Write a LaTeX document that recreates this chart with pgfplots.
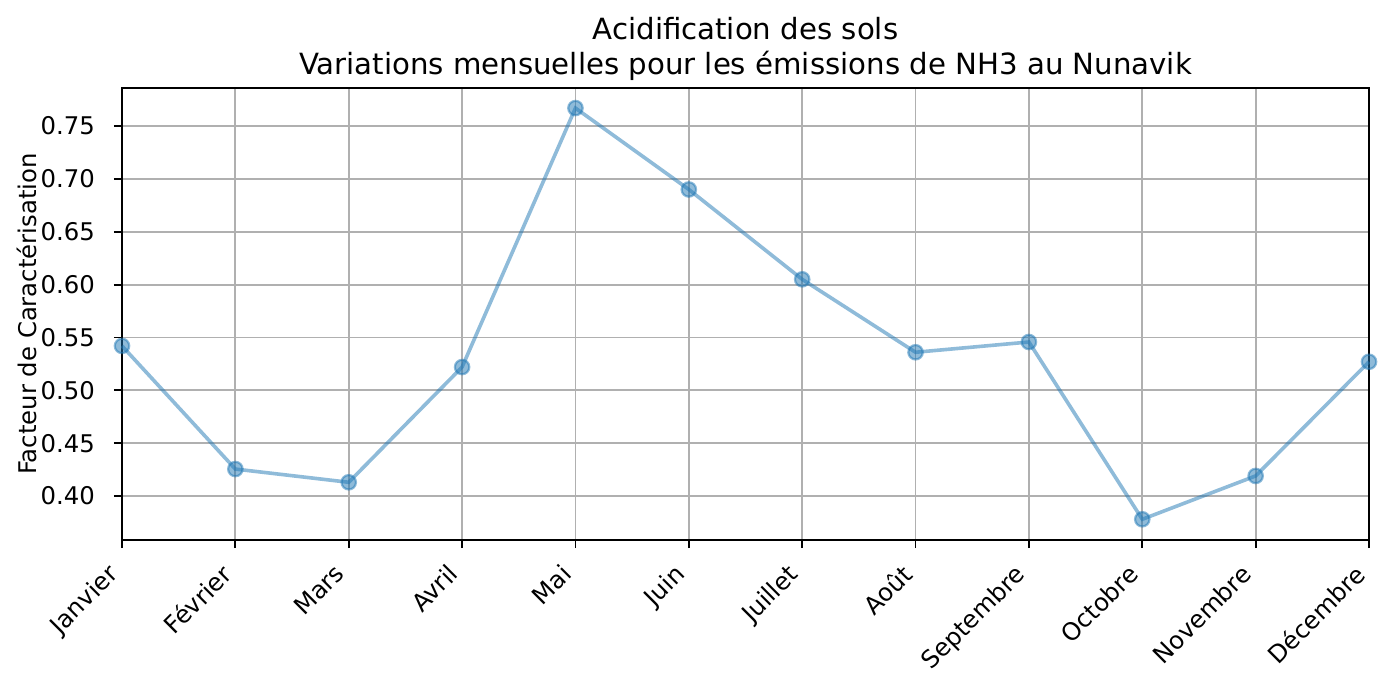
\documentclass[border=0pt]{standalone}
\usepackage{fontspec}
\setmainfont{DejaVu Sans}
\usepackage{pgfplots}
\pgfplotsset{compat=1.18}
\definecolor{tabblue}{HTML}{1F77B4}
\begin{document}
\begin{tikzpicture}
\useasboundingbox (0,0) rectangle (498.96bp,246.96bp);
\begin{axis}[
  at={(43.92bp,52.56bp)}, anchor=south west,
  scale only axis,
  width=448.92bp, height=162.72bp,
  xmin=0, xmax=11, ymin=0.3584, ymax=0.786,
  xtick={0,...,11},
  xticklabels={Janvier,Février,Mars,Avril,Mai,Juin,Juillet,Août,Septembre,Octobre,Novembre,Décembre},
  ytick={0.40,0.45,0.50,0.55,0.60,0.65,0.70,0.75},
  /pgf/number format/assume math mode=true,
  /pgf/number format/fixed,
  /pgf/number format/fixed zerofill,
  /pgf/number format/precision=2,
  ticklabel style={font=\fontsize{8.8}{10.5}\selectfont},
  yticklabel style={anchor=east, inner sep=0pt, xshift=-6.6bp},
  xticklabel style={xshift=-5.6bp, yshift=-5bp, rotate=45, anchor=north east, inner sep=0pt},
  tick align=outside, tick pos=left,
  major tick length=2.93bp,
  every tick/.style={black, line width=0.67bp},
  axis line style={line width=0.67bp},
  grid=major,
  major grid style={draw=black!31, line width=0.67bp},
  ylabel={Facteur de Caractérisation},
  ylabel style={font=\fontsize{8.8}{10.5}\selectfont, at={(axis description cs:-0.0682,0.5)}, anchor=south, inner sep=0pt},
  title={Acidification des sols\\Variations mensuelles pour les émissions de NH3 au Nunavik},
  title style={font=\fontsize{10.56}{12.7}\selectfont, align=center, at={(axis description cs:0.5,1)}, anchor=south, inner sep=0pt, yshift=-3.5bp},
  clip=false,
]
\addplot[tabblue, opacity=0.5, line width=1.3bp, mark=*, mark size=2.6bp,
  mark options={fill=tabblue, draw=tabblue, line width=0.8bp}] coordinates {
(0,0.542) (1,0.4255) (2,0.413) (3,0.522) (4,0.767) (5,0.690)
(6,0.605) (7,0.536) (8,0.5457) (9,0.378) (10,0.419) (11,0.527)
};
\end{axis}
\end{tikzpicture}
\end{document}
